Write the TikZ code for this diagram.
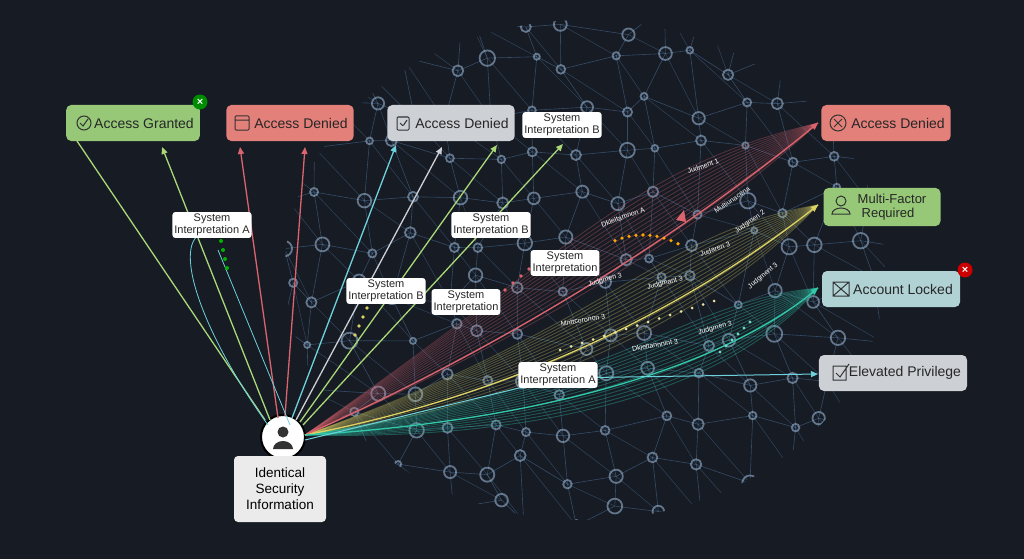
\documentclass[tikz,border=0pt]{standalone}
\usepackage{fontspec}
\setmainfont{Liberation Sans}
\usetikzlibrary{arrows.meta,calc}
\definecolor{bg}{RGB}{22,27,36}
\definecolor{gfill}{RGB}{150,200,120}
\definecolor{rfill}{RGB}{228,128,122}
\definecolor{grfill}{RGB}{205,208,212}
\definecolor{tfill}{RGB}{176,210,212}
\definecolor{gline}{RGB}{170,215,120}
\definecolor{rline}{RGB}{220,100,110}
\definecolor{cline}{RGB}{110,210,220}
\definecolor{yline}{RGB}{220,210,100}
\definecolor{tline}{RGB}{50,200,170}
\definecolor{net}{RGB}{100,150,200}
\begin{document}
\begin{tikzpicture}[x=1pt,y=-1pt,
 box/.style={draw=none,rounded corners=5pt,minimum height=36pt,inner sep=6pt,font=\fontsize{14}{16}\selectfont,text=black!85},
 lab/.style={fill=white,rounded corners=3pt,inner sep=2pt,align=center,font=\fontsize{11}{12}\selectfont,text=black!85},
 jl/.style={font=\fontsize{7}{7}\selectfont,text=white!85,inner sep=0pt},
 arr/.style={line width=1.3pt,-{Triangle[length=7pt,width=6pt]}},
 badge/.style={circle,inner sep=0pt,minimum size=15pt,font=\bfseries\fontsize{11}{11}\selectfont,text=white}]
\fill[bg] (0,0) rectangle (1024,559);
\useasboundingbox (0,0) rectangle (1024,559);
% network background
\begin{scope}
\clip (585,270) ellipse (300 and 250);
\pgfmathsetseed{11}
\foreach \i in {0,...,15}{\foreach \j in {0,...,11}{
  \coordinate (n-\i-\j) at ({280+\i*42+rnd*30-15},{20+\j*45+rnd*30-15});
}}
\foreach \i in {0,...,15}{\foreach \j in {0,...,11}{
  \pgfmathtruncatemacro\a{\i+1}\pgfmathtruncatemacro\b{\j+1}
  \ifnum\a<16 \draw[net,opacity=.4,line width=.6pt] (n-\i-\j) -- (n-\a-\j);\fi
  \ifnum\b<12 \draw[net,opacity=.4,line width=.6pt] (n-\i-\j) -- (n-\i-\b);\fi
  \ifnum\a<16 \ifnum\b<12 \draw[net,opacity=.3,line width=.6pt] (n-\i-\j) -- (n-\a-\b);\fi\fi
}}
\foreach \i in {0,...,15}{\foreach \j in {0,...,11}{
  \pgfmathsetmacro\s{3+rnd*5}
  \draw[net!60!white,opacity=.55,line width=1.8pt] (n-\i-\j) circle (\s);
}}
\end{scope}
% source
\node[circle,fill=white,draw=black,line width=2pt,minimum size=44pt] (src) at (283,437) {};
\fill[black!80] (283,432) circle (5.5);
\fill[black!80] (273,449) arc(180:360:10 and 8) -- cycle;
\node[fill=white!92!black,rounded corners=4pt,minimum width=92pt,minimum height=66pt,align=center,font=\fontsize{13.5}{16}\selectfont] (info) at (280,489) {Identical\\Security\\Information};
% boxes
\node[box,fill=gfill,minimum width=133pt] (ag) at (133,123) {\hspace{22pt}Access Granted};
\node[box,fill=rfill,minimum width=127pt] (ad1) at (290,123) {\hspace{22pt}Access Denied};
\node[box,fill=grfill,minimum width=125pt] (ad2) at (451,123) {\hspace{22pt}Access Denied};
\node[box,fill=rfill,minimum width=128pt] (ad3) at (886,123) {\hspace{24pt}Access Denied};
\node[box,fill=gfill,minimum width=117pt,align=center,font=\fontsize{13}{14}\selectfont,minimum height=38pt] (mf) at (882,207) {\hspace{20pt}Multi-Factor\\\hspace{12pt}Required};
\node[box,fill=tfill,minimum width=138pt] (al) at (891,289) {\hspace{24pt}Account Locked};
\node[box,fill=grfill,minimum width=143pt] (ep) at (893,373) {\hspace{24pt}Elevated Privilege};
\node[badge,fill=green!55!black] (b1) at (200,102) {×};
\node[badge,fill=red!80!black] (b2) at (965,270) {×};
% icons
\draw[black!80,line width=1pt] (84,123) circle (7) (80,123) -- (83,126) -- (88,119);
\draw[black!80,line width=1pt,rounded corners=1pt] (235,116) rectangle (249,130) (235,120) -- (249,120);
\draw[black!80,line width=1pt,rounded corners=1pt] (397,117) rectangle (409,130) (400,123) -- (403,126) -- (407,120);
\draw[black!80,line width=1pt] (838,123) circle (8) (834,119) -- (842,127) (842,119) -- (834,127);
\draw[black!80,line width=1pt] (841,201) circle (5) (832,214) arc(180:360:9 and 6) -- cycle;
\draw[black!80,line width=1pt] (833,282) rectangle (849,296) (833,282) -- (849,296) (849,282) -- (833,296);
\draw[black!80,line width=1pt] (833,366) rectangle (846,380) (836,373) -- (840,377) -- (849,364);
% coordinates
\coordinate (o) at (305,435);
\coordinate (inA) at (818,123);
\coordinate (inB) at (818,205);
\coordinate (inC) at (818,288);
\coordinate (inD) at (818,374);
% fans
\foreach \k in {0,...,14}{
 \draw[rline,opacity=.3,line width=.9pt] (o) .. controls ({480+\k*8},{360-\k*9}) and ({680-\k*3},{250-\k*6}) .. (inA);
 \draw[yline,opacity=.3,line width=.9pt] (o) .. controls ({500+\k*8},{410-\k*6}) and ({700-\k*3},{330-\k*7}) .. (inB);
 \draw[tline,opacity=.35,line width=.9pt] (o) .. controls ({520+\k*8},{440-\k*4}) and ({720-\k*3},{400-\k*7}) .. (inC);
}
\draw[rline,arr] (o) .. controls (520,340) and (700,220) .. (inA);
\draw[yline,arr] (o) .. controls (540,390) and (710,290) .. (inB);
\draw[tline,arr] (o) .. controls (560,420) and (730,360) .. (inC);
% fan dots
\foreach \p in {0,...,9}{\fill[orange!70!yellow] ({615+\p*7},{247+(\p-4)*(\p-4)*0.35-12}) circle (1.8);}
\fill[rline] (676,220) -- (684,210) -- (686,222) -- cycle;
\foreach \p in {0,...,14}{\fill[yline!60!white] ({560+\p*11},{350-\p*3.5}) circle (1.5);}
\foreach \p in {0,...,5}{\fill[tline!70!white] ({720+\p*6},{352-\p*6}) circle (1.6);}
% straight arrows
\draw[gline,line width=1.3pt] (265,420) -- (77,141);
\draw[gline,arr] (270,420) -- (162,147);
\draw[rline,arr] (278,418) -- (240,147);
\draw[rline,arr] (285,416) -- (305,147);
\draw[cline,arr] (292,418) -- (396,145);
\draw[grfill,arr] (296,420) -- (442,147);
\draw[gline,arr] (300,422) -- (497,145);
\draw[gline,arr] (303,425) -- (563,144);
\draw[cline,line width=.8pt] (268,425) .. controls (200,330) and (170,240) .. (205,232);
\draw[cline,line width=.8pt] (290,425) -- (218,250);
\draw[cline,arr,line width=1pt] (305,440) -- (560,378) -- (inD);
\foreach \p in {0,...,3}{\fill[green!70!black] ({227-\p*2},{268-\p*9}) circle (2);}
\foreach \p in {0,...,5}{\fill[yline] ({355+\p*4},{335-\p*9}) circle (1.8);}
\foreach \p in {0,...,3}{\fill[rline] ({505+\p*8},{290-\p*7}) circle (1.8);}
% labels
\node[lab] (l1) at (212,225) {System\\Interpretation A};
\node[lab] (l2) at (491,225) {System\\Interpretation B};
\node[lab] (l3) at (562,125) {System\\Interpretation B};
\node[lab] (l4) at (565,263) {System\\Interpretation};
\node[lab] (l5) at (386,291) {System\\Interpretation B};
\node[lab] (l6) at (466,302) {System\\Interpretation};
\node[lab] (l7) at (558,375) {System\\Interpretation A};
\node[jl,rotate=20] at (703,166) {Judment 1};
\node[jl,rotate=20] at (623,217) {Dkleltamnon A};
\node[jl,rotate=35] at (732,200) {Multiunacena};
\node[jl,rotate=35] at (750,222) {Judgmen 2};
\node[jl,rotate=20] at (715,249) {Judaren 3};
\node[jl,rotate=15] at (605,280) {Judgmen 3};
\node[jl,rotate=15] at (665,283) {Judgmant 3};
\node[jl,rotate=40] at (763,276) {Judgment 3};
\node[jl,rotate=10] at (583,320) {Mnttcoronon 3};
\node[jl,rotate=10] at (655,345) {Dkleltannnint 3};
\node[jl,rotate=15] at (715,328) {Judgmen 3};
\end{tikzpicture}
\end{document}
